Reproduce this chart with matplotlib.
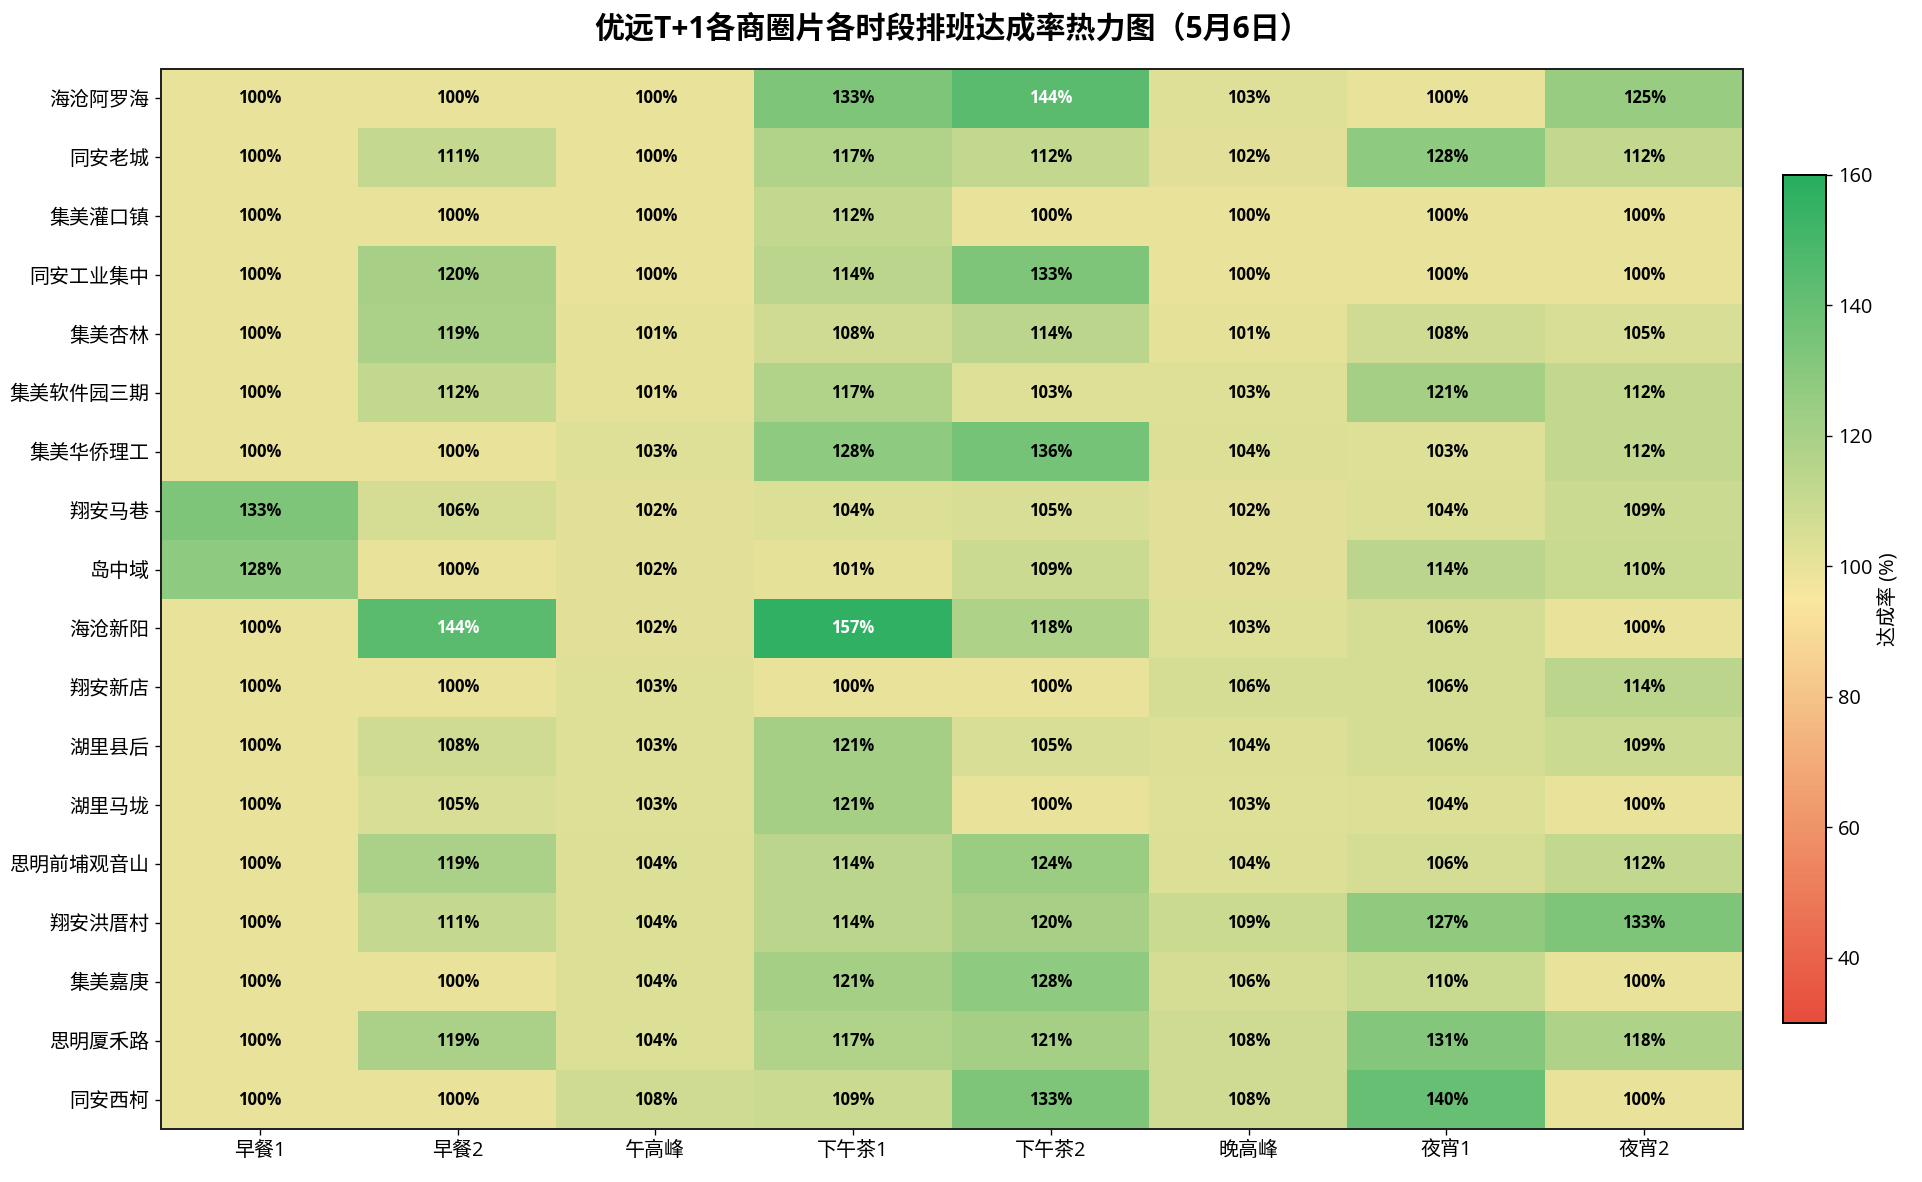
import matplotlib
matplotlib.use("Agg")
import matplotlib.pyplot as plt
import numpy as np
from matplotlib.colors import LinearSegmentedColormap

plt.rcParams['font.family'] = ['Open Sans', 'Noto Sans CJK SC', 'DejaVu Sans']
plt.rcParams['axes.unicode_minus'] = False

areas = ["海沧阿罗海", "同安老城", "集美灌口镇", "同安工业集中", "集美杏林", "集美软件园三期",
         "集美华侨理工", "翔安马巷", "岛中域", "海沧新阳", "翔安新店", "湖里县后", "湖里马垅",
         "思明前埔观音山", "翔安洪厝村", "集美嘉庚", "思明厦禾路", "同安西柯"]
periods = ["早餐1", "早餐2", "午高峰", "下午茶1", "下午茶2", "晚高峰", "夜宵1", "夜宵2"]

r_haicang_aluohai = [100, 100, 100, 133, 144, 103, 100, 125]
r_tongan_laocheng = [100, 111, 100, 117, 112, 102, 128, 112]
r_jimei_guankou = [100, 100, 100, 112, 100, 100, 100, 100]
r_tongan_gongye = [100, 120, 100, 114, 133, 100, 100, 100]
r_jimei_xinglin = [100, 119, 101, 108, 114, 101, 108, 105]
r_jimei_ruanjian3 = [100, 112, 101, 117, 103, 103, 121, 112]
r_jimei_huaqiao = [100, 100, 103, 128, 136, 104, 103, 112]
r_xiangan_maxiang = [133, 106, 102, 104, 105, 102, 104, 109]
r_daozhongyu = [128, 100, 102, 101, 109, 102, 114, 110]
r_haicang_xinyang = [100, 144, 102, 157, 118, 103, 106, 100]
r_xiangan_xindian = [100, 100, 103, 100, 100, 106, 106, 114]
r_huli_xianhou = [100, 108, 103, 121, 105, 104, 106, 109]
r_huli_malong = [100, 105, 103, 121, 100, 103, 104, 100]
r_siming_qianpu = [100, 119, 104, 114, 124, 104, 106, 112]
r_xiangan_hongcuo = [100, 111, 104, 114, 120, 109, 127, 133]
r_jimei_jiageng = [100, 100, 104, 121, 128, 106, 110, 100]
r_siming_xiahe = [100, 119, 104, 117, 121, 108, 131, 118]
r_tongan_xike = [100, 100, 108, 109, 133, 108, 140, 100]

data = np.array([r_haicang_aluohai, r_tongan_laocheng, r_jimei_guankou, r_tongan_gongye,
                 r_jimei_xinglin, r_jimei_ruanjian3, r_jimei_huaqiao, r_xiangan_maxiang,
                 r_daozhongyu, r_haicang_xinyang, r_xiangan_xindian, r_huli_xianhou,
                 r_huli_malong, r_siming_qianpu, r_xiangan_hongcuo, r_jimei_jiageng,
                 r_siming_xiahe, r_tongan_xike], dtype=float)

cmap = LinearSegmentedColormap.from_list("rg", ["#e74c3c", "#f9e79f", "#27ae60"])
vmin, vmax = 30, 160

W, H = 1922, 1182
dpi = 120
fig = plt.figure(figsize=(W / dpi, H / dpi), dpi=dpi)
ax = fig.add_axes([161 / W, 1 - 1129 / H, (1743 - 161) / W, (1129 - 69) / H])
cax = fig.add_axes([1783 / W, 1 - 1023 / H, 43 / W, 848 / H])

im = ax.imshow(data, cmap=cmap, vmin=vmin, vmax=vmax, aspect='auto', interpolation='nearest')
ax.set_xticks(range(len(periods)))
ax.set_xticklabels(periods, fontsize=12)
ax.set_yticks(range(len(areas)))
ax.set_yticklabels(areas, fontsize=12)
for s in ax.spines.values():
    s.set_linewidth(1.2)
    s.set_color("#222222")

for i in range(data.shape[0]):
    for j in range(data.shape[1]):
        v = data[i, j]
        ax.text(j, i, f"{v:.0f}%", ha='center', va='center', fontsize=10,
                fontweight='bold', color='white' if v > 140 else 'black')

cb = fig.colorbar(im, cax=cax)
cb.set_ticks([40, 60, 80, 100, 120, 140, 160])
cb.ax.tick_params(labelsize=12)
cb.set_label("达成率 (%)", fontsize=12)
cb.outline.set_linewidth(1.2)

fig.text(0.5 * (161 + 1743) / W, 1 - 29 / H, "优远T+1各商圈片各时段排班达成率热力图（5月6日）",
         ha='center', va='center', fontsize=18, fontweight='bold')

fig.savefig("out.png", dpi=dpi)
